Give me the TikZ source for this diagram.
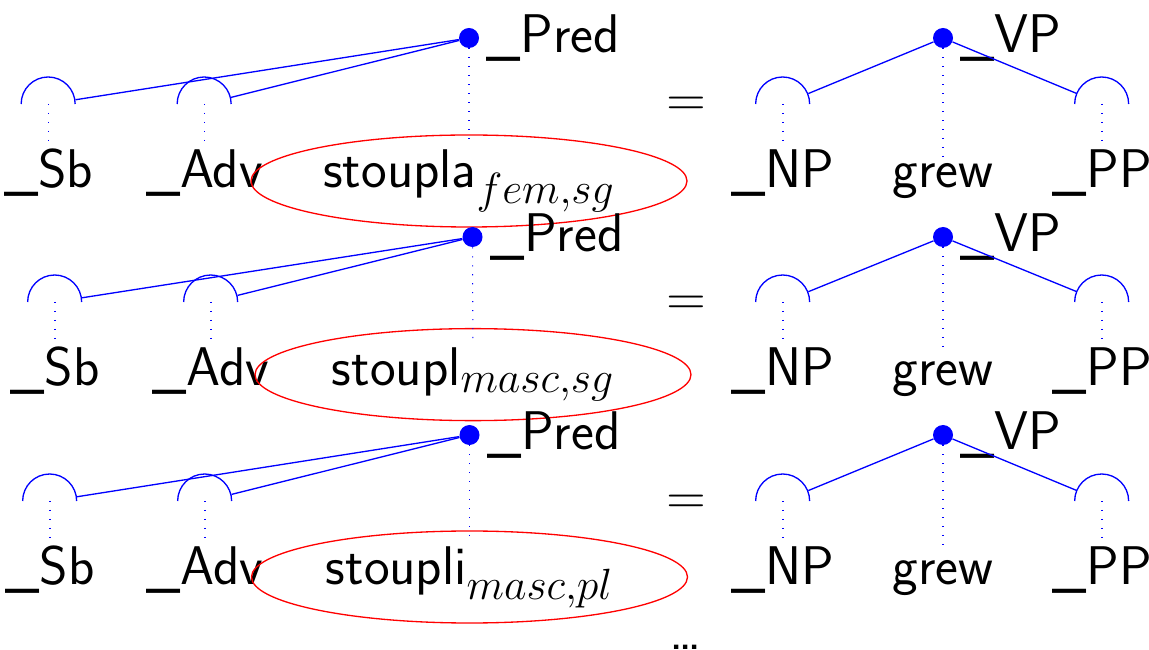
\documentclass[tikz,border=0pt]{standalone}
\usepackage{tikz}
\usetikzlibrary{shapes.geometric}
\DeclareMathSizes{31}{31}{24.88}{17.28}

\begin{document}
\begin{tikzpicture}[
  font=\fontsize{31}{37}\selectfont\sffamily,
  head/.style={circle, fill=blue, inner sep=0pt, minimum size=0.4cm},
  slot/.style={circle, inner sep=0pt, minimum size=1.08cm},
  word/.style={inner sep=4pt, anchor=base},
  tag/.style={inner sep=4pt, anchor=west},
  focus/.style={draw=red, ellipse, line width=0.75pt, minimum width=8.72cm, minimum height=1.84cm},
  edge/.style={blue, line width=0.75pt},
  link/.style={blue, line width=0.6pt, dash pattern=on 0.6pt off 4.5pt}
]
\useasboundingbox (0,0) rectangle (22.98,-13);

% Row 1
\node[head] (pred1) at (9.38,-0.76) {};
\node[tag] (predl1) at (pred1.east) {\_Pred};
\node[slot] (sb1) at (0.97,-2.08) {};
\node[slot] (adv1) at (4.09,-2.08) {};
\node[word] (sbl1) at (0.97,-3.76) {\_Sb};
\node[word] (advl1) at (4.09,-3.76) {\_Adv};
\node[word] (stoupla1) at (9.38,-3.76) {stoupla$_{fem,sg}$};
\node[focus] (ell1) at (stoupla1) {};
\draw[edge] (sb1.west) arc (180:0:0.54);
\draw[edge] (adv1.west) arc (180:0:0.54);
\draw[edge] (pred1) -- (sb1);
\draw[edge] (pred1) -- (adv1);
\draw[link] (sb1.center) -- (sbl1);
\draw[link] (adv1.center) -- (advl1);
\draw[link] (pred1) -- (stoupla1);

\node (eq1) at (13.72,-2.14) {=};

\node[head] (vp1) at (18.86,-0.76) {};
\node[tag] (vpl1) at (vp1.east) {\_VP};
\node[slot] (np1) at (15.66,-2.08) {};
\node[slot] (pp1) at (22.04,-2.08) {};
\node[word] (npl1) at (15.66,-3.76) {\_NP};
\node[word] (grew1) at (18.86,-3.76) {grew};
\node[word] (ppl1) at (22.04,-3.76) {\_PP};
\draw[edge] (np1.west) arc (180:0:0.54);
\draw[edge] (pp1.west) arc (180:0:0.54);
\draw[edge] (vp1) -- (np1);
\draw[edge] (vp1) -- (pp1);
\draw[link] (np1.center) -- (npl1);
\draw[link] (vp1) -- (grew1);
\draw[link] (pp1.center) -- (ppl1);

% Row 2
\node[head] (pred2) at (9.45,-4.74) {};
\node[tag] (predl2) at (pred2.east) {\_Pred};
\node[slot] (sb2) at (1.10,-6.04) {};
\node[slot] (adv2) at (4.22,-6.04) {};
\node[word] (sbl2) at (1.10,-7.72) {\_Sb};
\node[word] (advl2) at (4.22,-7.72) {\_Adv};
\node[word] (stoupla2) at (9.46,-7.72) {stoupl$_{masc,sg}$};
\node[focus] (ell2) at (stoupla2) {};
\draw[edge] (sb2.west) arc (180:0:0.54);
\draw[edge] (adv2.west) arc (180:0:0.54);
\draw[edge] (pred2) -- (sb2);
\draw[edge] (pred2) -- (adv2);
\draw[link] (sb2.center) -- (sbl2);
\draw[link] (adv2.center) -- (advl2);
\draw[link] (pred2) -- (stoupla2);

\node (eq2) at (13.72,-6.12) {=};

\node[head] (vp2) at (18.86,-4.74) {};
\node[tag] (vpl2) at (vp2.east) {\_VP};
\node[slot] (np2) at (15.66,-6.04) {};
\node[slot] (pp2) at (22.04,-6.04) {};
\node[word] (npl2) at (15.66,-7.72) {\_NP};
\node[word] (grew2) at (18.86,-7.72) {grew};
\node[word] (ppl2) at (22.04,-7.72) {\_PP};
\draw[edge] (np2.west) arc (180:0:0.54);
\draw[edge] (pp2.west) arc (180:0:0.54);
\draw[edge] (vp2) -- (np2);
\draw[edge] (vp2) -- (pp2);
\draw[link] (np2.center) -- (npl2);
\draw[link] (vp2) -- (grew2);
\draw[link] (pp2.center) -- (ppl2);

% Row 3
\node[head] (pred3) at (9.39,-8.70) {};
\node[tag] (predl3) at (pred3.east) {\_Pred};
\node[slot] (sb3) at (1.00,-10.02) {};
\node[slot] (adv3) at (4.10,-10.02) {};
\node[word] (sbl3) at (1.00,-11.68) {\_Sb};
\node[word] (advl3) at (4.10,-11.68) {\_Adv};
\node[word] (stoupla3) at (9.39,-11.68) {stoupli$_{masc,pl}$};
\node[focus] (ell3) at (stoupla3) {};
\draw[edge] (sb3.west) arc (180:0:0.54);
\draw[edge] (adv3.west) arc (180:0:0.54);
\draw[edge] (pred3) -- (sb3);
\draw[edge] (pred3) -- (adv3);
\draw[link] (sb3.center) -- (sbl3);
\draw[link] (adv3.center) -- (advl3);
\draw[link] (pred3) -- (stoupla3);

\node (eq3) at (13.72,-10.10) {=};

\node[head] (vp3) at (18.86,-8.70) {};
\node[tag] (vpl3) at (vp3.east) {\_VP};
\node[slot] (np3) at (15.66,-10.02) {};
\node[slot] (pp3) at (22.04,-10.02) {};
\node[word] (npl3) at (15.66,-11.68) {\_NP};
\node[word] (grew3) at (18.86,-11.68) {grew};
\node[word] (ppl3) at (22.04,-11.68) {\_PP};
\draw[edge] (np3.west) arc (180:0:0.54);
\draw[edge] (pp3.west) arc (180:0:0.54);
\draw[edge] (vp3) -- (np3);
\draw[edge] (vp3) -- (pp3);
\draw[link] (np3.center) -- (npl3);
\draw[link] (vp3) -- (grew3);
\draw[link] (pp3.center) -- (ppl3);

\node[word] (more) at (13.72,-12.98) {\ldots};
\end{tikzpicture}
\end{document}
